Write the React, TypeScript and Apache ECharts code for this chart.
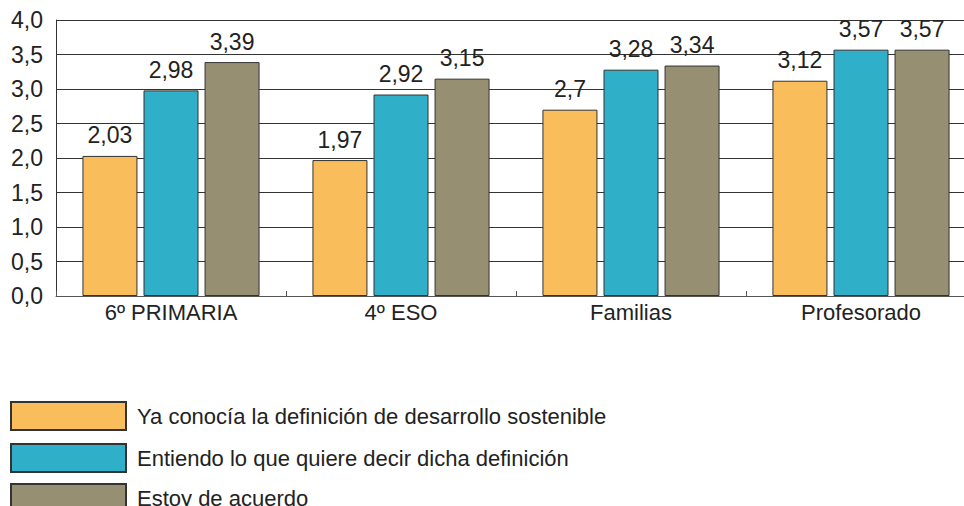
import React, { useEffect, useRef } from "react";
import * as echarts from "echarts";

const categories = ["6º PRIMARIA", "4º ESO", "Familias", "Profesorado"];
const seriesNames = [
  "Ya conocía la definición de desarrollo sostenible",
  "Entiendo lo que quiere decir dicha definición",
  "Estoy de acuerdo",
];
const conocia = [2.03, 1.97, 2.7, 3.12];
const entiendo = [2.98, 2.92, 3.28, 3.57];
const deAcuerdo = [3.39, 3.15, 3.34, 3.57];
const colors = ["#F9BD5C", "#30B0C8", "#968F72"];

const fmt = (v: number) => String(v).replace(".", ",");
const font = "'Liberation Sans', Arial, sans-serif";
const legendTops = [401, 443, 483];

export default function App() {
  const ref = useRef<HTMLDivElement>(null);
  useEffect(() => {
    const chart = echarts.init(ref.current!, null, { renderer: "svg" });
    const values = [conocia, entiendo, deAcuerdo];
    chart.setOption({
      animation: false,
      textStyle: { fontFamily: font },
      grid: { left: 56, right: 0, top: 20, height: 276 },
      legend: seriesNames.map((name, i) => ({
        orient: "vertical",
        left: 10,
        top: legendTops[i],
        padding: 0,
        itemWidth: 115,
        itemHeight: 28,
        icon: "rect",
        textStyle: { fontSize: 22, color: "#222", fontFamily: font, padding: [0, 0, 0, 6] },
        data: [name],
      })),
      xAxis: {
        type: "category",
        data: categories,
        axisLine: { lineStyle: { color: "#555", width: 1 } },
        axisTick: { show: true, inside: true, length: 5, lineStyle: { color: "#555" } },
        axisLabel: { fontSize: 22, color: "#222", margin: 5, fontFamily: font },
      },
      yAxis: {
        type: "value",
        min: 0,
        max: 4,
        interval: 0.5,
        axisLine: { show: true, lineStyle: { color: "#333", width: 1 } },
        axisTick: { show: false },
        splitLine: { lineStyle: { color: "#333", width: 1 } },
        axisLabel: {
          fontSize: 23,
          color: "#222",
          margin: 13,
          fontFamily: font,
          formatter: (v: number) => v.toFixed(1).replace(".", ","),
        },
      },
      series: seriesNames.map((name, i) => ({
        name,
        type: "bar",
        data: values[i],
        barWidth: 55,
        barGap: "11%",
        itemStyle: { color: colors[i], borderColor: "#333", borderWidth: 1 },
        label: {
          show: true,
          position: "top",
          distance: 9,
          fontSize: 23,
          color: "#222",
          fontFamily: font,
          formatter: (p: any) => fmt(p.value),
        },
      })),
    });
    return () => chart.dispose();
  }, []);
  return (
    <div style={{ width: 964, height: 506, position: "absolute", left: 0, top: 0, overflow: "hidden" }}>
      <div ref={ref} style={{ width: 976, height: 506 }} />
    </div>
  );
}
